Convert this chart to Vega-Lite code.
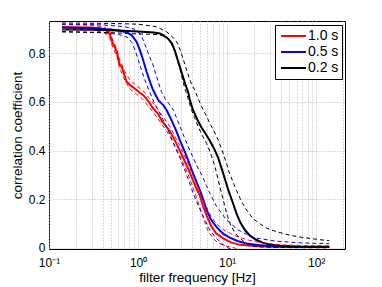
{
  "$schema": "https://vega.github.io/schema/vega-lite/v6.json",
  "width": 296,
  "height": 228,
  "autosize": {"type": "none"},
  "padding": {"left": 49, "top": 21, "right": 37, "bottom": 38},
  "background": "white",
  "config": {
    "view": {"stroke": "black", "strokeWidth": 1},
    "font": "Liberation Sans",
    "axis": {
      "labelFont": "Liberation Sans",
      "titleFont": "Liberation Sans",
      "labelColor": "black",
      "titleColor": "black",
      "labelFontSize": 12,
      "titleFontSize": 13.5,
      "titleFontWeight": "normal",
      "ticks": false,
      "domain": false,
      "grid": true,
      "gridDash": [1, 2],
      "gridColor": "#b4b4b4",
      "gridWidth": 1
    },
    "legend": {
      "labelFont": "Liberation Sans",
      "labelFontSize": 14,
      "labelColor": "black",
      "fillColor": "white",
      "strokeColor": "black",
      "padding": 3,
      "symbolType": "stroke",
      "symbolStrokeWidth": 2,
      "symbolDash": [1, 0],
      "symbolSize": 625,
      "symbolOffset": 2,
      "labelOffset": 1,
      "clipHeight": 16,
      "rowPadding": 0
    }
  },
  "data": {
    "values": [
      {"s":"1.0 s","k":"m","f":0.14,"v":0.908},{"s":"1.0 s","k":"m","f":0.2,"v":0.907},{"s":"1.0 s","k":"m","f":0.3,"v":0.906},{"s":"1.0 s","k":"m","f":0.38,"v":0.903},{"s":"1.0 s","k":"m","f":0.44,"v":0.895},{"s":"1.0 s","k":"m","f":0.48,"v":0.88},{"s":"1.0 s","k":"m","f":0.52,"v":0.84},{"s":"1.0 s","k":"m","f":0.55,"v":0.825},{"s":"1.0 s","k":"m","f":0.58,"v":0.8},{"s":"1.0 s","k":"m","f":0.62,"v":0.755},{"s":"1.0 s","k":"m","f":0.66,"v":0.742},{"s":"1.0 s","k":"m","f":0.7,"v":0.712},{"s":"1.0 s","k":"m","f":0.74,"v":0.685},{"s":"1.0 s","k":"m","f":0.8,"v":0.672},{"s":"1.0 s","k":"m","f":0.88,"v":0.66},{"s":"1.0 s","k":"m","f":0.96,"v":0.649},{"s":"1.0 s","k":"m","f":1.05,"v":0.638},{"s":"1.0 s","k":"m","f":1.14,"v":0.628},{"s":"1.0 s","k":"m","f":1.24,"v":0.614},{"s":"1.0 s","k":"m","f":1.35,"v":0.595},{"s":"1.0 s","k":"m","f":1.47,"v":0.574},{"s":"1.0 s","k":"m","f":1.68,"v":0.55},{"s":"1.0 s","k":"m","f":1.83,"v":0.525},{"s":"1.0 s","k":"m","f":2.05,"v":0.5},{"s":"1.0 s","k":"m","f":2.27,"v":0.48},{"s":"1.0 s","k":"m","f":2.6,"v":0.44},{"s":"1.0 s","k":"m","f":2.94,"v":0.4},{"s":"1.0 s","k":"m","f":3.3,"v":0.36},{"s":"1.0 s","k":"m","f":3.7,"v":0.32},{"s":"1.0 s","k":"m","f":4.1,"v":0.28},{"s":"1.0 s","k":"m","f":4.5,"v":0.245},{"s":"1.0 s","k":"m","f":4.93,"v":0.215},{"s":"1.0 s","k":"m","f":5.37,"v":0.17},{"s":"1.0 s","k":"m","f":6.0,"v":0.125},{"s":"1.0 s","k":"m","f":6.6,"v":0.09},{"s":"1.0 s","k":"m","f":7.5,"v":0.06},{"s":"1.0 s","k":"m","f":9.0,"v":0.039},{"s":"1.0 s","k":"m","f":11,"v":0.022},{"s":"1.0 s","k":"m","f":13.9,"v":0.012},{"s":"1.0 s","k":"m","f":20,"v":0.007},{"s":"1.0 s","k":"m","f":30,"v":0.004},{"s":"1.0 s","k":"m","f":60,"v":0.003},{"s":"1.0 s","k":"m","f":140,"v":0.003},

      {"s":"1.0 s","k":"h","f":0.14,"v":0.918},{"s":"1.0 s","k":"h","f":0.3,"v":0.916},{"s":"1.0 s","k":"h","f":0.42,"v":0.908},{"s":"1.0 s","k":"h","f":0.48,"v":0.89},{"s":"1.0 s","k":"h","f":0.52,"v":0.855},{"s":"1.0 s","k":"h","f":0.58,"v":0.815},{"s":"1.0 s","k":"h","f":0.62,"v":0.775},{"s":"1.0 s","k":"h","f":0.7,"v":0.73},{"s":"1.0 s","k":"h","f":0.8,"v":0.692},{"s":"1.0 s","k":"h","f":0.96,"v":0.667},{"s":"1.0 s","k":"h","f":1.14,"v":0.645},{"s":"1.0 s","k":"h","f":1.35,"v":0.613},{"s":"1.0 s","k":"h","f":1.68,"v":0.568},{"s":"1.0 s","k":"h","f":2.27,"v":0.5},{"s":"1.0 s","k":"h","f":2.94,"v":0.42},{"s":"1.0 s","k":"h","f":3.7,"v":0.34},{"s":"1.0 s","k":"h","f":4.5,"v":0.265},{"s":"1.0 s","k":"h","f":5.37,"v":0.195},{"s":"1.0 s","k":"h","f":6.6,"v":0.13},{"s":"1.0 s","k":"h","f":7.5,"v":0.1},{"s":"1.0 s","k":"h","f":9.0,"v":0.075},{"s":"1.0 s","k":"h","f":11,"v":0.058},{"s":"1.0 s","k":"h","f":13.9,"v":0.042},{"s":"1.0 s","k":"h","f":18,"v":0.03},{"s":"1.0 s","k":"h","f":25,"v":0.02},{"s":"1.0 s","k":"h","f":40,"v":0.012},{"s":"1.0 s","k":"h","f":70,"v":0.009},{"s":"1.0 s","k":"h","f":140,"v":0.008},

      {"s":"1.0 s","k":"l","f":0.14,"v":0.898},{"s":"1.0 s","k":"l","f":0.3,"v":0.896},{"s":"1.0 s","k":"l","f":0.42,"v":0.885},{"s":"1.0 s","k":"l","f":0.48,"v":0.862},{"s":"1.0 s","k":"l","f":0.52,"v":0.825},{"s":"1.0 s","k":"l","f":0.58,"v":0.785},{"s":"1.0 s","k":"l","f":0.62,"v":0.74},{"s":"1.0 s","k":"l","f":0.7,"v":0.695},{"s":"1.0 s","k":"l","f":0.8,"v":0.655},{"s":"1.0 s","k":"l","f":0.96,"v":0.632},{"s":"1.0 s","k":"l","f":1.14,"v":0.61},{"s":"1.0 s","k":"l","f":1.35,"v":0.575},{"s":"1.0 s","k":"l","f":1.68,"v":0.53},{"s":"1.0 s","k":"l","f":2.27,"v":0.46},{"s":"1.0 s","k":"l","f":2.94,"v":0.38},{"s":"1.0 s","k":"l","f":3.7,"v":0.295},{"s":"1.0 s","k":"l","f":4.5,"v":0.21},{"s":"1.0 s","k":"l","f":4.93,"v":0.165},{"s":"1.0 s","k":"l","f":5.37,"v":0.125},{"s":"1.0 s","k":"l","f":6.1,"v":0.07},{"s":"1.0 s","k":"l","f":7.0,"v":0.038},{"s":"1.0 s","k":"l","f":7.9,"v":0.02},{"s":"1.0 s","k":"l","f":9.5,"v":0.008},{"s":"1.0 s","k":"l","f":12,"v":0.0},{"s":"1.0 s","k":"l","f":14,"v":-0.01},

      {"s":"0.5 s","k":"m","f":0.14,"v":0.906},{"s":"0.5 s","k":"m","f":0.3,"v":0.903},{"s":"0.5 s","k":"m","f":0.5,"v":0.898},{"s":"0.5 s","k":"m","f":0.65,"v":0.892},{"s":"0.5 s","k":"m","f":0.75,"v":0.886},{"s":"0.5 s","k":"m","f":0.85,"v":0.874},{"s":"0.5 s","k":"m","f":0.96,"v":0.848},{"s":"0.5 s","k":"m","f":1.03,"v":0.82},{"s":"0.5 s","k":"m","f":1.09,"v":0.795},{"s":"0.5 s","k":"m","f":1.17,"v":0.758},{"s":"0.5 s","k":"m","f":1.24,"v":0.726},{"s":"0.5 s","k":"m","f":1.36,"v":0.683},{"s":"0.5 s","k":"m","f":1.45,"v":0.655},{"s":"0.5 s","k":"m","f":1.54,"v":0.635},{"s":"0.5 s","k":"m","f":1.7,"v":0.605},{"s":"0.5 s","k":"m","f":1.91,"v":0.588},{"s":"0.5 s","k":"m","f":2.1,"v":0.565},{"s":"0.5 s","k":"m","f":2.37,"v":0.525},{"s":"0.5 s","k":"m","f":2.65,"v":0.485},{"s":"0.5 s","k":"m","f":2.94,"v":0.443},{"s":"0.5 s","k":"m","f":3.3,"v":0.4},{"s":"0.5 s","k":"m","f":3.65,"v":0.36},{"s":"0.5 s","k":"m","f":3.98,"v":0.322},{"s":"0.5 s","k":"m","f":4.53,"v":0.27},{"s":"0.5 s","k":"m","f":4.93,"v":0.237},{"s":"0.5 s","k":"m","f":5.37,"v":0.2},{"s":"0.5 s","k":"m","f":5.86,"v":0.157},{"s":"0.5 s","k":"m","f":6.6,"v":0.115},{"s":"0.5 s","k":"m","f":7.6,"v":0.085},{"s":"0.5 s","k":"m","f":9.0,"v":0.058},{"s":"0.5 s","k":"m","f":10.7,"v":0.042},{"s":"0.5 s","k":"m","f":13,"v":0.028},{"s":"0.5 s","k":"m","f":16.5,"v":0.018},{"s":"0.5 s","k":"m","f":22,"v":0.011},{"s":"0.5 s","k":"m","f":30,"v":0.007},{"s":"0.5 s","k":"m","f":50,"v":0.004},{"s":"0.5 s","k":"m","f":80,"v":0.003},{"s":"0.5 s","k":"m","f":140,"v":0.003},

      {"s":"0.5 s","k":"h","f":0.14,"v":0.92},{"s":"0.5 s","k":"h","f":0.4,"v":0.917},{"s":"0.5 s","k":"h","f":0.7,"v":0.91},{"s":"0.5 s","k":"h","f":0.9,"v":0.9},{"s":"0.5 s","k":"h","f":1.04,"v":0.882},{"s":"0.5 s","k":"h","f":1.14,"v":0.855},{"s":"0.5 s","k":"h","f":1.24,"v":0.82},{"s":"0.5 s","k":"h","f":1.35,"v":0.785},{"s":"0.5 s","k":"h","f":1.47,"v":0.752},{"s":"0.5 s","k":"h","f":1.68,"v":0.683},{"s":"0.5 s","k":"h","f":1.83,"v":0.642},{"s":"0.5 s","k":"h","f":2.0,"v":0.615},{"s":"0.5 s","k":"h","f":2.2,"v":0.595},{"s":"0.5 s","k":"h","f":2.5,"v":0.565},{"s":"0.5 s","k":"h","f":2.94,"v":0.5},{"s":"0.5 s","k":"h","f":3.65,"v":0.416},{"s":"0.5 s","k":"h","f":4.53,"v":0.34},{"s":"0.5 s","k":"h","f":5.17,"v":0.3},{"s":"0.5 s","k":"h","f":5.86,"v":0.255},{"s":"0.5 s","k":"h","f":6.39,"v":0.225},{"s":"0.5 s","k":"h","f":7.6,"v":0.17},{"s":"0.5 s","k":"h","f":9.84,"v":0.114},{"s":"0.5 s","k":"h","f":13.3,"v":0.073},{"s":"0.5 s","k":"h","f":19.5,"v":0.042},{"s":"0.5 s","k":"h","f":36,"v":0.027},{"s":"0.5 s","k":"h","f":70,"v":0.02},{"s":"0.5 s","k":"h","f":140,"v":0.017},

      {"s":"0.5 s","k":"l","f":0.14,"v":0.89},{"s":"0.5 s","k":"l","f":0.4,"v":0.885},{"s":"0.5 s","k":"l","f":0.6,"v":0.878},{"s":"0.5 s","k":"l","f":0.77,"v":0.865},{"s":"0.5 s","k":"l","f":0.85,"v":0.845},{"s":"0.5 s","k":"l","f":0.92,"v":0.815},{"s":"0.5 s","k":"l","f":1.04,"v":0.755},{"s":"0.5 s","k":"l","f":1.19,"v":0.69},{"s":"0.5 s","k":"l","f":1.36,"v":0.638},{"s":"0.5 s","k":"l","f":1.5,"v":0.6},{"s":"0.5 s","k":"l","f":1.68,"v":0.567},{"s":"0.5 s","k":"l","f":2.08,"v":0.5},{"s":"0.5 s","k":"l","f":2.59,"v":0.416},{"s":"0.5 s","k":"l","f":2.94,"v":0.37},{"s":"0.5 s","k":"l","f":3.34,"v":0.32},{"s":"0.5 s","k":"l","f":3.75,"v":0.27},{"s":"0.5 s","k":"l","f":4.15,"v":0.224},{"s":"0.5 s","k":"l","f":4.53,"v":0.19},{"s":"0.5 s","k":"l","f":5.17,"v":0.142},{"s":"0.5 s","k":"l","f":5.8,"v":0.105},{"s":"0.5 s","k":"l","f":6.39,"v":0.073},{"s":"0.5 s","k":"l","f":7.3,"v":0.045},{"s":"0.5 s","k":"l","f":8.28,"v":0.025},{"s":"0.5 s","k":"l","f":9.2,"v":0.01},{"s":"0.5 s","k":"l","f":10.2,"v":0.0},{"s":"0.5 s","k":"l","f":11.5,"v":-0.01},

      {"s":"0.2 s","k":"m","f":0.14,"v":0.898},{"s":"0.2 s","k":"m","f":0.3,"v":0.897},{"s":"0.2 s","k":"m","f":0.6,"v":0.894},{"s":"0.2 s","k":"m","f":1.0,"v":0.89},{"s":"0.2 s","k":"m","f":1.5,"v":0.886},{"s":"0.2 s","k":"m","f":1.75,"v":0.882},{"s":"0.2 s","k":"m","f":1.91,"v":0.875},{"s":"0.2 s","k":"m","f":2.17,"v":0.86},{"s":"0.2 s","k":"m","f":2.4,"v":0.84},{"s":"0.2 s","k":"m","f":2.59,"v":0.81},{"s":"0.2 s","k":"m","f":2.94,"v":0.745},{"s":"0.2 s","k":"m","f":3.34,"v":0.68},{"s":"0.2 s","k":"m","f":3.65,"v":0.64},{"s":"0.2 s","k":"m","f":3.8,"v":0.61},{"s":"0.2 s","k":"m","f":4.1,"v":0.57},{"s":"0.2 s","k":"m","f":4.34,"v":0.55},{"s":"0.2 s","k":"m","f":4.8,"v":0.515},{"s":"0.2 s","k":"m","f":5.15,"v":0.495},{"s":"0.2 s","k":"m","f":5.7,"v":0.47},{"s":"0.2 s","k":"m","f":6.39,"v":0.44},{"s":"0.2 s","k":"m","f":7.2,"v":0.405},{"s":"0.2 s","k":"m","f":7.93,"v":0.37},{"s":"0.2 s","k":"m","f":8.6,"v":0.33},{"s":"0.2 s","k":"m","f":9.3,"v":0.29},{"s":"0.2 s","k":"m","f":10.3,"v":0.237},{"s":"0.2 s","k":"m","f":11.7,"v":0.18},{"s":"0.2 s","k":"m","f":12.7,"v":0.142},{"s":"0.2 s","k":"m","f":14,"v":0.105},{"s":"0.2 s","k":"m","f":15.8,"v":0.073},{"s":"0.2 s","k":"m","f":18,"v":0.05},{"s":"0.2 s","k":"m","f":21.4,"v":0.032},{"s":"0.2 s","k":"m","f":25,"v":0.021},{"s":"0.2 s","k":"m","f":30,"v":0.013},{"s":"0.2 s","k":"m","f":40,"v":0.008},{"s":"0.2 s","k":"m","f":60,"v":0.005},{"s":"0.2 s","k":"m","f":100,"v":0.004},{"s":"0.2 s","k":"m","f":140,"v":0.004},

      {"s":"0.2 s","k":"h","f":0.14,"v":0.925},{"s":"0.2 s","k":"h","f":0.5,"v":0.923},{"s":"0.2 s","k":"h","f":1.0,"v":0.92},{"s":"0.2 s","k":"h","f":1.61,"v":0.909},{"s":"0.2 s","k":"h","f":2.08,"v":0.889},{"s":"0.2 s","k":"h","f":2.4,"v":0.87},{"s":"0.2 s","k":"h","f":2.7,"v":0.848},{"s":"0.2 s","k":"h","f":3.0,"v":0.81},{"s":"0.2 s","k":"h","f":3.19,"v":0.779},{"s":"0.2 s","k":"h","f":3.65,"v":0.711},{"s":"0.2 s","k":"h","f":4.0,"v":0.67},{"s":"0.2 s","k":"h","f":4.34,"v":0.649},{"s":"0.2 s","k":"h","f":4.7,"v":0.615},{"s":"0.2 s","k":"h","f":5.17,"v":0.58},{"s":"0.2 s","k":"h","f":5.8,"v":0.545},{"s":"0.2 s","k":"h","f":6.39,"v":0.512},{"s":"0.2 s","k":"h","f":7.1,"v":0.48},{"s":"0.2 s","k":"h","f":7.93,"v":0.443},{"s":"0.2 s","k":"h","f":8.8,"v":0.4},{"s":"0.2 s","k":"h","f":9.84,"v":0.347},{"s":"0.2 s","k":"h","f":10.3,"v":0.32},{"s":"0.2 s","k":"h","f":11.5,"v":0.275},{"s":"0.2 s","k":"h","f":12.7,"v":0.237},{"s":"0.2 s","k":"h","f":14.5,"v":0.19},{"s":"0.2 s","k":"h","f":16.5,"v":0.155},{"s":"0.2 s","k":"h","f":19.5,"v":0.12},{"s":"0.2 s","k":"h","f":23,"v":0.1},{"s":"0.2 s","k":"h","f":28,"v":0.08},{"s":"0.2 s","k":"h","f":36,"v":0.066},{"s":"0.2 s","k":"h","f":50,"v":0.052},{"s":"0.2 s","k":"h","f":63,"v":0.045},{"s":"0.2 s","k":"h","f":100,"v":0.035},{"s":"0.2 s","k":"h","f":140,"v":0.029},

      {"s":"0.2 s","k":"l","f":0.14,"v":0.888},{"s":"0.2 s","k":"l","f":0.5,"v":0.885},{"s":"0.2 s","k":"l","f":1.0,"v":0.88},{"s":"0.2 s","k":"l","f":1.7,"v":0.877},{"s":"0.2 s","k":"l","f":2.08,"v":0.868},{"s":"0.2 s","k":"l","f":2.3,"v":0.85},{"s":"0.2 s","k":"l","f":2.59,"v":0.807},{"s":"0.2 s","k":"l","f":2.94,"v":0.738},{"s":"0.2 s","k":"l","f":3.34,"v":0.655},{"s":"0.2 s","k":"l","f":3.6,"v":0.62},{"s":"0.2 s","k":"l","f":3.98,"v":0.567},{"s":"0.2 s","k":"l","f":4.3,"v":0.535},{"s":"0.2 s","k":"l","f":4.71,"v":0.5},{"s":"0.2 s","k":"l","f":5.2,"v":0.465},{"s":"0.2 s","k":"l","f":5.86,"v":0.43},{"s":"0.2 s","k":"l","f":6.5,"v":0.39},{"s":"0.2 s","k":"l","f":7.28,"v":0.335},{"s":"0.2 s","k":"l","f":8.28,"v":0.25},{"s":"0.2 s","k":"l","f":9.0,"v":0.2},{"s":"0.2 s","k":"l","f":9.4,"v":0.17},{"s":"0.2 s","k":"l","f":10.2,"v":0.125},{"s":"0.2 s","k":"l","f":11.1,"v":0.088},{"s":"0.2 s","k":"l","f":12.3,"v":0.06},{"s":"0.2 s","k":"l","f":13.9,"v":0.04},{"s":"0.2 s","k":"l","f":15.8,"v":0.022},{"s":"0.2 s","k":"l","f":17.9,"v":0.011},{"s":"0.2 s","k":"l","f":22,"v":0.004},{"s":"0.2 s","k":"l","f":30,"v":0.002},{"s":"0.2 s","k":"l","f":60,"v":0.0005},{"s":"0.2 s","k":"l","f":140,"v":0.0}
    ]
  },
  "encoding": {
    "x": {
      "field": "f", "type": "quantitative",
      "scale": {"type": "log", "domain": [0.1, 210], "nice": false},
      "axis": {
        "title": "filter frequency [Hz]",
        "values": [0.1,0.2,0.3,0.4,0.5,0.6,0.7,0.8,0.9,1,2,3,4,5,6,7,8,9,10,20,30,40,50,60,70,80,90,100,200],
        "labelExpr": "datum.value==0.1?'10⁻¹':datum.value==1?'10⁰':datum.value==10?'10¹':datum.value==100?'10²':''",
        "labelOverlap": false,
        "labelFlush": false,
        "labelPadding": 8,
        "titlePadding": 2
      }
    },
    "y": {
      "field": "v", "type": "quantitative",
      "scale": {"domain": [-0.005, 0.933], "nice": false, "zero": false},
      "axis": {
        "title": "correlation coefficient",
        "values": [0, 0.2, 0.4, 0.6, 0.8],
        "labelExpr": "datum.value==0?'0':format(datum.value,'.1f')",
        "labelPadding": 4,
        "titlePadding": 4
      }
    },
    "color": {
      "field": "s", "type": "nominal",
      "scale": {"domain": ["1.0 s", "0.5 s", "0.2 s"], "range": ["#ff0000", "#0000ff", "#000000"]},
      "legend": {"title": null, "orient": "none", "legendX": 226, "legendY": 4}
    }
  },
  "layer": [
    {
      "transform": [{"filter": "datum.k == 'm'"}],
      "mark": {"type": "line", "strokeWidth": 2, "clip": true}
    },
    {
      "transform": [{"filter": "datum.k != 'm'"}],
      "mark": {"type": "line", "strokeWidth": 1, "strokeDash": [4, 3], "clip": true},
      "encoding": {
        "detail": {"field": "k"}
      }
    }
  ]
}
